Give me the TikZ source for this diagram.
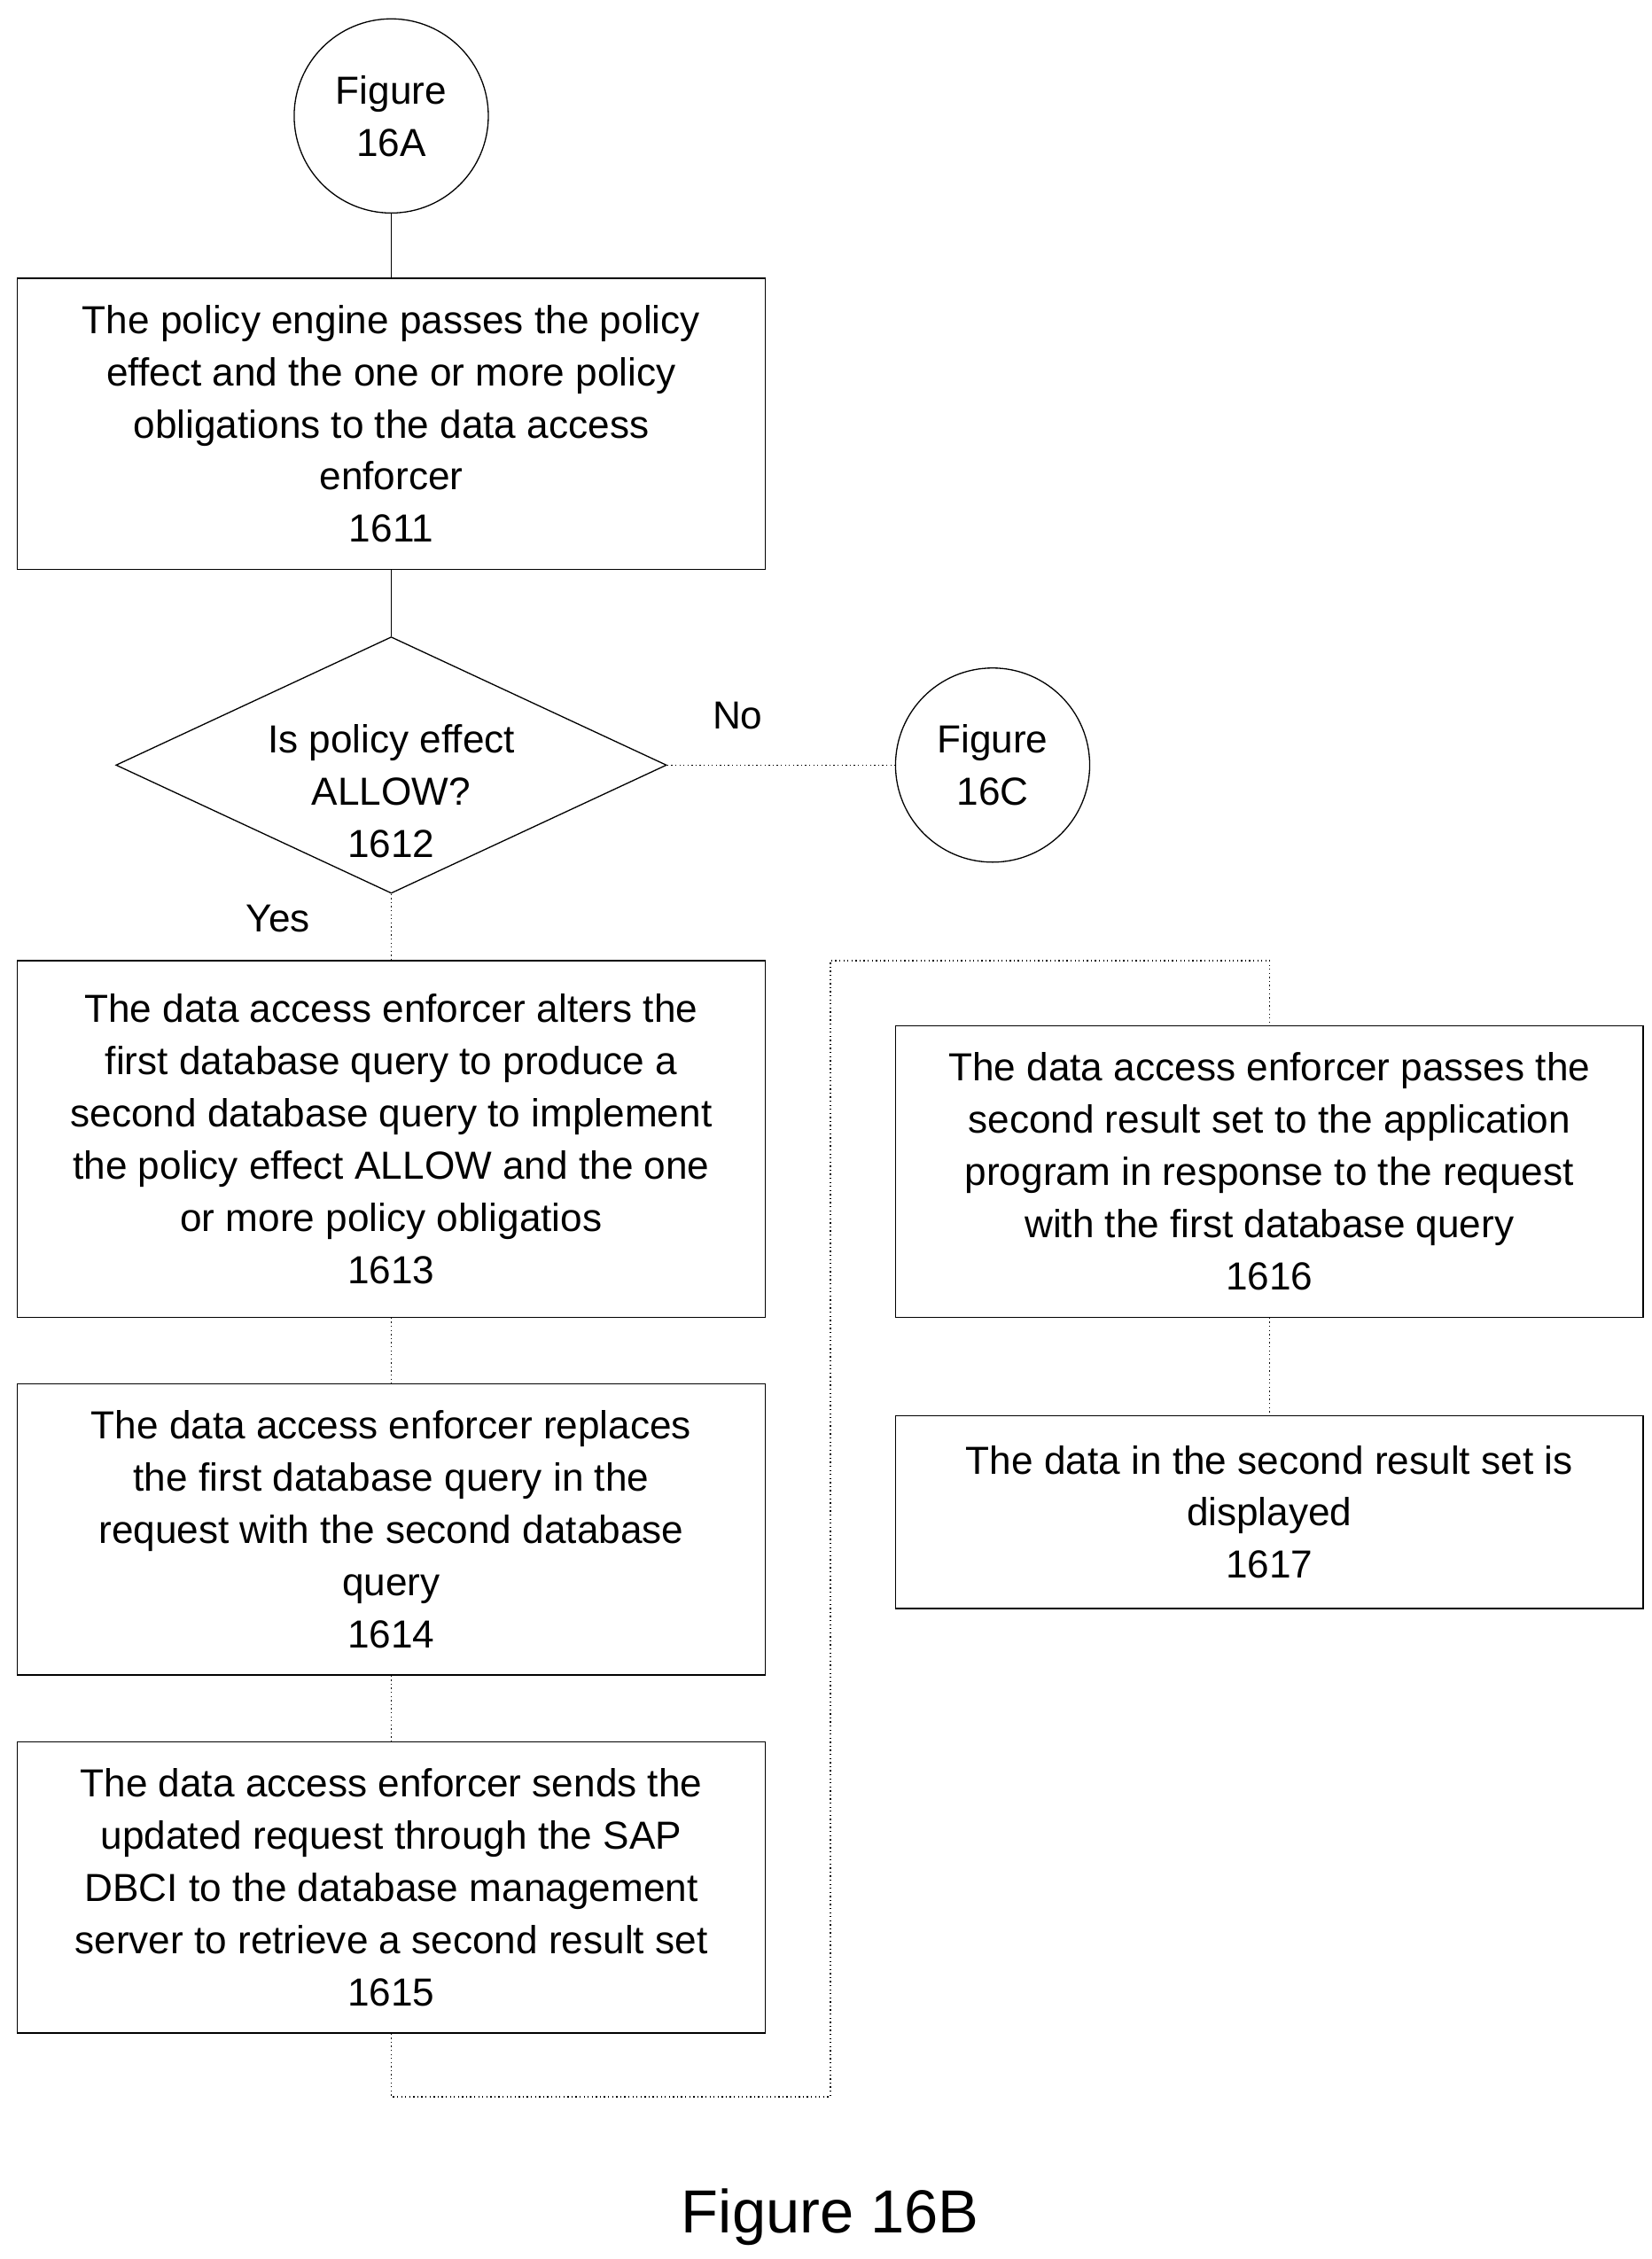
\documentclass[tikz,border=0pt]{standalone}
\usepackage{fontspec}
\setmainfont{Liberation Sans}
\usetikzlibrary{shapes.geometric}
\begin{document}
\begin{tikzpicture}[x=1pt,y=-1pt,
  txt/.style={font=\fontsize{27}{36}\selectfont},
  box/.style={draw,line width=0.8pt,txt,align=center,minimum width=516pt,inner sep=0pt},
  circ/.style={draw,line width=0.8pt,circle,minimum size=134pt,txt,align=center,inner sep=0pt},
  dot/.style={line width=0.8pt,dotted},
  sol/.style={line width=0.8pt}]
\useasboundingbox (0,0) rectangle (1140,1559);
\node[circ] (c16a) at (270,80) {Figure\\16A};
\node[box,minimum height=201pt] (b1611) at (270,292.5) {The policy engine passes the policy\\effect and the one or more policy\\obligations to the data access\\enforcer\\1611};
\node[draw,line width=0.8pt,diamond,aspect=2.15,minimum width=380pt,minimum height=177pt,inner sep=0pt] (d1612) at (270,528) {};
\node[txt,align=center] at (270,546) {Is policy effect\\ALLOW?\\1612};
\node[circ] (c16c) at (685,528) {Figure\\16C};
\node[txt] at (509,494) {No};
\node[txt] at (192,634) {Yes};
\node[box,minimum height=246pt] (b1613) at (270,786) {The data access enforcer alters the\\first database query to produce a\\second database query to implement\\the policy effect ALLOW and the one\\or more policy obligatios\\1613};
\node[box,minimum height=201pt] (b1614) at (270,1055.5) {The data access enforcer replaces\\the first database query in the\\request with the second database\\query\\1614};
\node[box,minimum height=201pt] (b1615) at (270,1302.5) {The data access enforcer sends the\\updated request through the SAP\\DBCI to the database management\\server to retrieve a second result set\\1615};
\node[box,minimum height=201pt] (b1616) at (876,808.5) {The data access enforcer passes the\\second result set to the application\\program in response to the request\\with the first database query\\1616};
\node[box,minimum height=133pt] (b1617) at (876,1043.5) {The data in the second result set is\\displayed\\1617};
\node[font=\fontsize{42}{50}\selectfont] (cap) at (573,1530) {Figure 16B};
\draw[sol] (c16a) -- (b1611);
\draw[sol] (b1611) -- (d1612.north);
\draw[dot] (d1612.east) -- (c16c);
\draw[dot] (d1612.south) -- (b1613);
\draw[dot] (b1613) -- (b1614);
\draw[dot] (b1614) -- (b1615);
\coordinate (p1) at (270,1447);
\coordinate (p2) at (573,1447);
\coordinate (p3) at (573,663);
\coordinate (p4) at (876,663);
\draw[dot] (b1615.south) -- (p1) -- (p2) -- (p3) -- (p4) -- (b1616.north);
\draw[dot] (b1616) -- (b1617);
\end{tikzpicture}
\end{document}
